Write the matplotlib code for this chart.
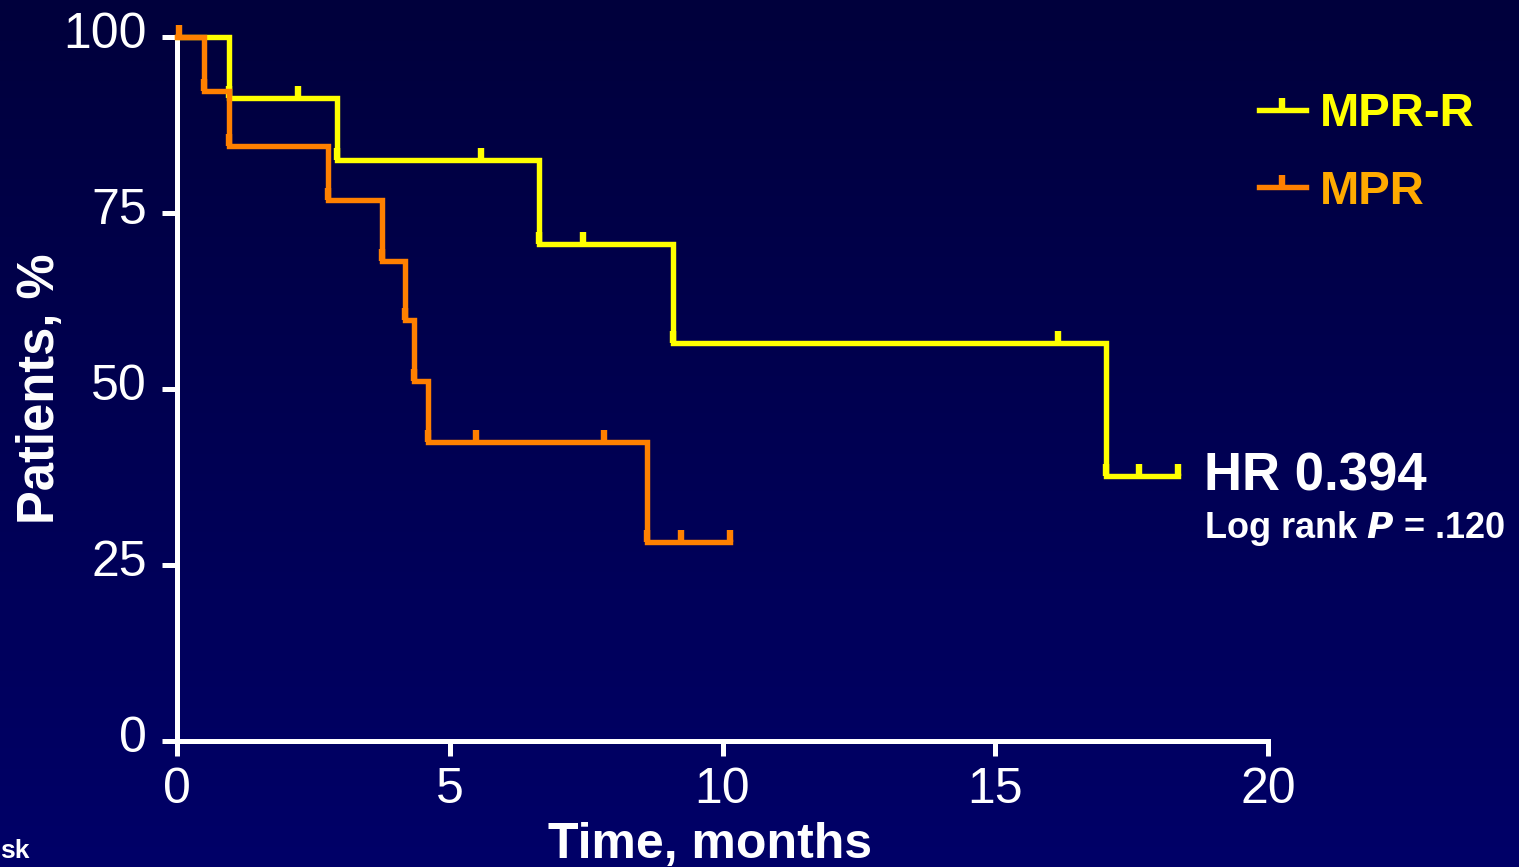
import matplotlib
matplotlib.use("Agg")
import matplotlib.pyplot as plt
import matplotlib.transforms as mtransforms
import numpy as np
from matplotlib.lines import Line2D

plt.rcParams['font.family'] = ['Liberation Sans', 'DejaVu Sans']

# Kaplan-Meier steps (time in months, % patients)
mprr_times = [0, 0.96, 2.93, 6.64, 9.09, 17.03, 18.35]
mprr_surv = [100, 91.4, 82.6, 70.6, 56.5, 37.6, 37.6]
mprr_censor = [0.96, 2.21, 2.93, 5.58, 6.64, 7.44, 9.09, 16.15, 17.03, 17.63, 18.35]

mpr_times = [0, 0.50, 0.96, 2.77, 3.75, 4.18, 4.35, 4.61, 8.62, 10.14]
mpr_surv = [100, 92.3, 84.5, 76.8, 68.2, 59.8, 51.2, 42.5, 28.3, 28.3]
mpr_censor = [0.04, 0.50, 0.96, 2.77, 3.75, 4.18, 4.35, 4.61, 5.49, 7.83, 8.62, 9.24, 10.14]

series_names = ["MPR-R", "MPR"]
line_colors = ["#ffff00", "#ff8000"]
label_colors = ["#ffff00", "#ffaa00"]

x_ticks = [0, 5, 10, 15, 20]
y_ticks = [0, 25, 50, 75, 100]


def step_value(times, surv, t):
    idx = np.searchsorted(times, t, side='right') - 1
    return surv[max(idx, 0)]


# censor mark: short vertical tick standing on the curve
tick_marker = [(0, 0), (0, 1)]

fig = plt.figure(figsize=(15.19, 8.67), dpi=100)

# background gradient
bg = fig.add_axes([0, 0, 1, 1], zorder=-10)
grad = np.linspace(0, 1, 256).reshape(-1, 1)
top = np.array([0, 0, 60]) / 255
bottom = np.array([0, 0, 104]) / 255
img = top + (bottom - top) * grad[..., None]
bg.imshow(img, aspect='auto', extent=[0, 1, 0, 1])
bg.axis('off')

ax = fig.add_axes([0.1165, 0.1453, 0.7183, 0.812])
ax.set_facecolor('none')

lw = 3.9
for times, surv, cens, col, z in [
    (mprr_times, mprr_surv, mprr_censor, line_colors[0], 3),
    (mpr_times, mpr_surv, mpr_censor, line_colors[1], 4),
]:
    ax.step(times, surv, where='post', color=col, lw=lw, zorder=z, clip_on=False,
            solid_joinstyle='miter')
    cy = [step_value(times, surv, t) for t in cens]
    ax.plot(cens, cy, ls='none', marker=tick_marker, ms=18, mew=4.6, color=col,
            zorder=z, clip_on=False)

ax.set_xlim(0, 20)
ax.set_ylim(0, 100)
ax.set_xticks(x_ticks)
ax.set_yticks(y_ticks)

for side in ['top', 'right']:
    ax.spines[side].set_visible(False)
for side in ['left', 'bottom']:
    ax.spines[side].set_color('white')
    ax.spines[side].set_linewidth(3.6)

ax.tick_params(axis='both', colors='white', width=3.6, length=10.5, direction='out',
               labelsize=36)
ax.tick_params(axis='y', pad=11)
ax.tick_params(axis='x', pad=8)

# y tick labels sit a little above their ticks in the original
shift_up = mtransforms.ScaledTranslation(0, 0.07, fig.dpi_scale_trans)
for lab in ax.get_yticklabels():
    lab.set_transform(lab.get_transform() + shift_up)

ax.set_xlabel("Time, months", color='white', fontsize=36, fontweight='bold')
ax.xaxis.set_label_coords(0.4885, -0.115)
ax.set_ylabel("Patients, %", color='white', fontsize=36.5, fontweight='bold', labelpad=-1)

# legend
handles = [Line2D([0], [0], color=c, lw=lw, marker=tick_marker, ms=18, mew=4.6)
           for c in line_colors]
leg = fig.legend(handles, series_names, loc='upper left',
                 bbox_to_anchor=(1216 / 1519, 1 - 50 / 867), frameon=False,
                 prop={'weight': 'bold', 'size': 34}, handlelength=1.0,
                 handletextpad=0.3, labelspacing=0.7, labelcolor=label_colors)

fig.text(1204 / 1519, 1 - 490 / 867, "HR 0.394", color='white', fontsize=38,
         fontweight='bold', ha='left', va='baseline')
fig.text(1204 / 1519, 1 - 538 / 867, r"Log rank $\bfit{P}$ = .120", color='white',
         fontsize=26, fontweight='bold', ha='left', va='baseline')
fig.text(0.0, 1 - 858 / 867, "sk", color='white', fontsize=19, fontweight='bold',
         ha='left', va='baseline')

fig.savefig("out.png", dpi=100, facecolor=fig.get_facecolor())
